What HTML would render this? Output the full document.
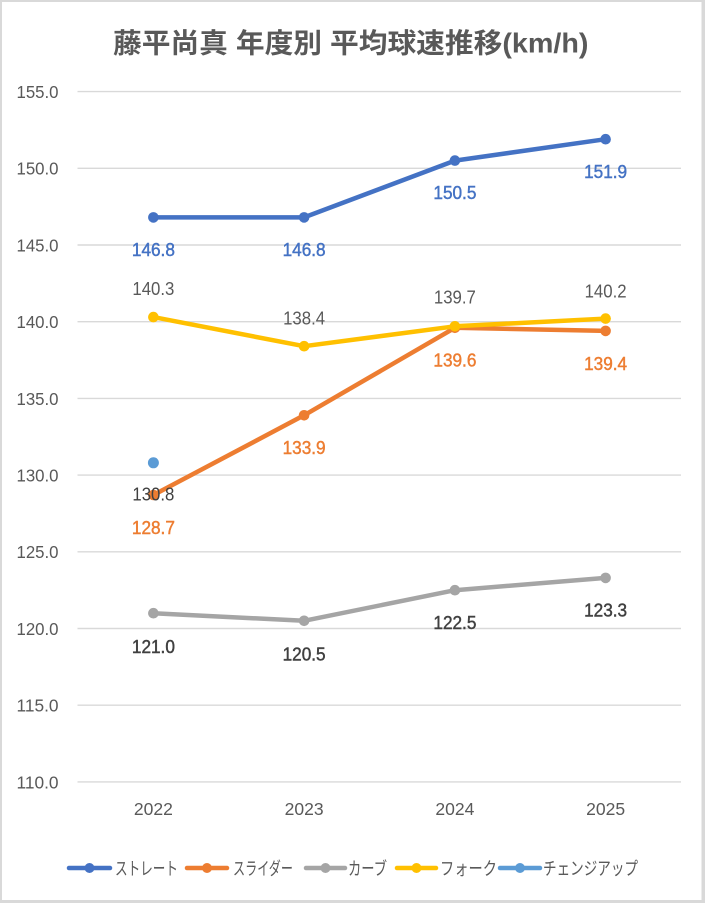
<!DOCTYPE html>
<html>
<head>
<meta charset="utf-8">
<style>
html,body{margin:0;padding:0;background:#fff;}
svg{display:block;}
</style>
</head>
<body>
<svg width="705" height="903" viewBox="0 0 705 903" xmlns="http://www.w3.org/2000/svg">
  <rect x="0" y="0" width="705" height="903" fill="#d9d9d9"/>
  <rect x="2" y="2" width="699.5" height="898" fill="#ffffff"/>

  <!-- Title -->
  <text x="113" y="52.5" font-family="'Liberation Sans','Noto Sans CJK JP',sans-serif" font-size="27.5" font-weight="600" fill="#595959" textLength="475.5" lengthAdjust="spacingAndGlyphs">藤平尚真 年度別 平均球速推移(km/h)</text>

  <!-- Gridlines -->
  <g stroke="#d9d9d9" stroke-width="1.4">
    <line x1="77.5" y1="91.6" x2="681" y2="91.6"/>
    <line x1="77.5" y1="168.3" x2="681" y2="168.3"/>
    <line x1="77.5" y1="245" x2="681" y2="245"/>
    <line x1="77.5" y1="321.7" x2="681" y2="321.7"/>
    <line x1="77.5" y1="398.4" x2="681" y2="398.4"/>
    <line x1="77.5" y1="475.1" x2="681" y2="475.1"/>
    <line x1="77.5" y1="551.8" x2="681" y2="551.8"/>
    <line x1="77.5" y1="628.5" x2="681" y2="628.5"/>
    <line x1="77.5" y1="705.2" x2="681" y2="705.2"/>
    <line x1="77.5" y1="781.9" x2="681" y2="781.9"/>
  </g>

  <!-- Y axis labels -->
  <g font-family="'Liberation Sans',sans-serif" font-size="17.5" fill="#595959" text-anchor="end">
    <text x="58.5" y="98" textLength="42" lengthAdjust="spacingAndGlyphs">155.0</text>
    <text x="58.5" y="174.7" textLength="42" lengthAdjust="spacingAndGlyphs">150.0</text>
    <text x="58.5" y="251.4" textLength="42" lengthAdjust="spacingAndGlyphs">145.0</text>
    <text x="58.5" y="328.1" textLength="42" lengthAdjust="spacingAndGlyphs">140.0</text>
    <text x="58.5" y="404.8" textLength="42" lengthAdjust="spacingAndGlyphs">135.0</text>
    <text x="58.5" y="481.5" textLength="42" lengthAdjust="spacingAndGlyphs">130.0</text>
    <text x="58.5" y="558.2" textLength="42" lengthAdjust="spacingAndGlyphs">125.0</text>
    <text x="58.5" y="634.9" textLength="42" lengthAdjust="spacingAndGlyphs">120.0</text>
    <text x="58.5" y="711.6" textLength="42" lengthAdjust="spacingAndGlyphs">115.0</text>
    <text x="58.5" y="788.3" textLength="42" lengthAdjust="spacingAndGlyphs">110.0</text>
  </g>

  <!-- X axis labels -->
  <g font-family="'Liberation Sans',sans-serif" font-size="17.5" fill="#595959" text-anchor="middle">
    <text x="153.4" y="815" textLength="39" lengthAdjust="spacingAndGlyphs">2022</text>
    <text x="304.1" y="815" textLength="39" lengthAdjust="spacingAndGlyphs">2023</text>
    <text x="454.9" y="815" textLength="39" lengthAdjust="spacingAndGlyphs">2024</text>
    <text x="605.6" y="815" textLength="39" lengthAdjust="spacingAndGlyphs">2025</text>
  </g>

  <!-- Series: Straight -->
  <polyline fill="none" stroke="#4472C4" stroke-width="4.5" stroke-linejoin="round" stroke-linecap="round" points="153.4,217.4 304.1,217.4 454.9,160.6 605.6,139.2"/>
  <g fill="#4472C4">
    <circle cx="153.4" cy="217.4" r="5.3"/>
    <circle cx="304.1" cy="217.4" r="5.3"/>
    <circle cx="454.9" cy="160.6" r="5.3"/>
    <circle cx="605.6" cy="139.2" r="5.3"/>
  </g>

  <!-- Series: Slider -->
  <polyline fill="none" stroke="#ED7D31" stroke-width="4.5" stroke-linejoin="round" stroke-linecap="round" points="153.4,495 304.1,415.3 454.9,327.8 605.6,330.9"/>
  <g fill="#ED7D31">
    <circle cx="153.4" cy="495" r="5.3"/>
    <circle cx="304.1" cy="415.3" r="5.3"/>
    <circle cx="454.9" cy="327.8" r="5.3"/>
    <circle cx="605.6" cy="330.9" r="5.3"/>
  </g>

  <!-- Series: Curve -->
  <polyline fill="none" stroke="#A5A5A5" stroke-width="4.5" stroke-linejoin="round" stroke-linecap="round" points="153.4,613.2 304.1,620.8 454.9,590.2 605.6,577.9"/>
  <g fill="#A5A5A5">
    <circle cx="153.4" cy="613.2" r="5.3"/>
    <circle cx="304.1" cy="620.8" r="5.3"/>
    <circle cx="454.9" cy="590.2" r="5.3"/>
    <circle cx="605.6" cy="577.9" r="5.3"/>
  </g>

  <!-- Series: Fork -->
  <polyline fill="none" stroke="#FFC000" stroke-width="4.5" stroke-linejoin="round" stroke-linecap="round" points="153.4,317.1 304.1,346.2 454.9,326.3 605.6,318.6"/>
  <g fill="#FFC000">
    <circle cx="153.4" cy="317.1" r="5.3"/>
    <circle cx="304.1" cy="346.2" r="5.3"/>
    <circle cx="454.9" cy="326.3" r="5.3"/>
    <circle cx="605.6" cy="318.6" r="5.3"/>
  </g>

  <!-- Series: Changeup -->
  <circle cx="153.4" cy="462.8" r="5.5" fill="#5B9BD5"/>

  <!-- Data labels -->
  <g font-family="'Liberation Sans',sans-serif" font-size="18" text-anchor="middle">
    <g fill="#4472C4" stroke="#4472C4" stroke-width="0.45">
      <text x="153.4" y="256.2" textLength="43" lengthAdjust="spacingAndGlyphs">146.8</text>
      <text x="304.1" y="256.2" textLength="43" lengthAdjust="spacingAndGlyphs">146.8</text>
      <text x="454.9" y="198.9" textLength="43" lengthAdjust="spacingAndGlyphs">150.5</text>
      <text x="605.6" y="178.2" textLength="43" lengthAdjust="spacingAndGlyphs">151.9</text>
    </g>
    <g fill="#ED7D31" stroke="#ED7D31" stroke-width="0.45">
      <text x="153.4" y="533.8" textLength="43" lengthAdjust="spacingAndGlyphs">128.7</text>
      <text x="304.1" y="454.1" textLength="43" lengthAdjust="spacingAndGlyphs">133.9</text>
      <text x="454.9" y="366.6" textLength="43" lengthAdjust="spacingAndGlyphs">139.6</text>
      <text x="605.6" y="370.2" textLength="43" lengthAdjust="spacingAndGlyphs">139.4</text>
    </g>
    <g fill="#404040" stroke="#404040" stroke-width="0.45">
      <text x="153.4" y="653" textLength="43" lengthAdjust="spacingAndGlyphs">121.0</text>
      <text x="304.1" y="660.3" textLength="43" lengthAdjust="spacingAndGlyphs">120.5</text>
      <text x="454.9" y="629" textLength="43" lengthAdjust="spacingAndGlyphs">122.5</text>
      <text x="605.6" y="616.7" textLength="43" lengthAdjust="spacingAndGlyphs">123.3</text>
    </g>
    <g fill="#595959">
      <text x="153.4" y="294.9" textLength="42" lengthAdjust="spacingAndGlyphs">140.3</text>
      <text x="304.1" y="324.6" textLength="42" lengthAdjust="spacingAndGlyphs">138.4</text>
      <text x="454.9" y="303.6" textLength="42" lengthAdjust="spacingAndGlyphs">139.7</text>
      <text x="605.6" y="297.3" textLength="42" lengthAdjust="spacingAndGlyphs">140.2</text>
    </g>
    <g fill="#404040">
      <text x="153.4" y="500.3" textLength="42" lengthAdjust="spacingAndGlyphs">130.8</text>
    </g>
  </g>

  <!-- Legend -->
  <g stroke-width="4.5" stroke-linecap="round">
    <line x1="69" y1="868" x2="110" y2="868" stroke="#4472C4"/>
    <line x1="187" y1="868" x2="227" y2="868" stroke="#ED7D31"/>
    <line x1="306" y1="868" x2="345" y2="868" stroke="#A5A5A5"/>
    <line x1="397" y1="868" x2="436" y2="868" stroke="#FFC000"/>
    <line x1="500" y1="868" x2="540" y2="868" stroke="#5B9BD5"/>
  </g>
  <circle cx="89.5" cy="868" r="5" fill="#4472C4"/>
  <circle cx="207" cy="868" r="5" fill="#ED7D31"/>
  <circle cx="325.5" cy="868" r="5" fill="#A5A5A5"/>
  <circle cx="416.5" cy="868" r="5" fill="#FFC000"/>
  <circle cx="520" cy="868" r="5" fill="#5B9BD5"/>
  <g font-family="'Noto Sans CJK JP',sans-serif" font-size="18" fill="#595959">
    <text x="115" y="875" textLength="63" lengthAdjust="spacingAndGlyphs">ストレート</text>
    <text x="233" y="875" textLength="60" lengthAdjust="spacingAndGlyphs">スライダー</text>
    <text x="348" y="875" textLength="39" lengthAdjust="spacingAndGlyphs">カーブ</text>
    <text x="440" y="875" textLength="57" lengthAdjust="spacingAndGlyphs">フォーク</text>
    <text x="543" y="875" textLength="95" lengthAdjust="spacingAndGlyphs">チェンジアップ</text>
  </g>
</svg>
</body>
</html>
